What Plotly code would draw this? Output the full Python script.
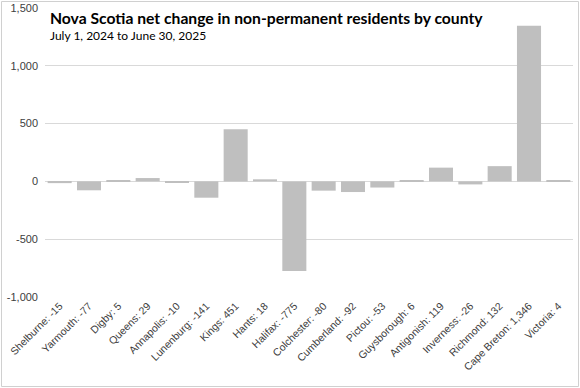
import plotly.graph_objects as go

counties = ["Shelburne", "Yarmouth", "Digby", "Queens", "Annapolis", "Lunenburg", "Kings",
            "Hants", "Halifax", "Colchester", "Cumberland", "Pictou", "Guysborough",
            "Antigonish", "Inverness", "Richmond", "Cape Breton", "Victoria"]
values = [-15, -77, 5, 29, -10, -141, 451, 18, -775, -80, -92, -53, 6, 119, -26, 132, 1346, 4]
tick_labels = [f"{c}: {v:,}" for c, v in zip(counties, values)]
y_ticks = [-1000, -500, 0, 500, 1000, 1500]
y_tick_text = ["-1,000", "-500", "0", "500", "1,000", "1,500"]

L, R, T, B = 45, 7, 8, 91
PW, PH = 580 - L - R, 388 - T - B

fig = go.Figure(go.Bar(x=tick_labels, y=values, marker_color="#bfbfbf",
                       marker_line_width=0))

fig.update_layout(
    width=580, height=388,
    margin=dict(l=L, r=R, t=T, b=B),
    paper_bgcolor="white", plot_bgcolor="white",
    bargap=0.18,
    showlegend=False,
    font=dict(family="Liberation Sans, Arial", size=11, color="#404040"),
    xaxis=dict(tickangle=-45, showgrid=False, zeroline=False, showline=False,
               automargin=False,
               tickfont=dict(family="Liberation Sans, Arial", size=10.5, color="#404040"),
               ticks=""),
    yaxis=dict(range=[-1000, 1500], tickvals=y_ticks, ticktext=y_tick_text,
               automargin=False,
               showgrid=True, gridcolor="#d9d9d9", gridwidth=1,
               zeroline=True, zerolinecolor="#d9d9d9", zerolinewidth=1,
               tickfont=dict(family="Liberation Sans, Arial", size=11, color="#404040"),
               ticks="", ticklabelstandoff=6),
    shapes=[dict(type="rect", xref="paper", yref="paper",
                 x0=(1.5 - L) / PW, x1=(578.5 - L) / PW,
                 y0=(T + PH - 386.5) / PH, y1=1 + (T - 1.5) / PH,
                 line=dict(color="#d0d0d0", width=1),
                 fillcolor="rgba(0,0,0,0)", layer="above")],
    annotations=[
        dict(text="<b>Nova Scotia net change in non-permanent residents by county</b>",
             xref="paper", yref="paper", x=3 / PW, y=1 - 10 / PH, xanchor="left", yanchor="middle",
             showarrow=False, font=dict(family="Lato, Noto Sans", size=15.7, color="#000000")),
        dict(text="July 1, 2024 to June 30, 2025",
             xref="paper", yref="paper", x=3 / PW, y=1 - 27 / PH, xanchor="left", yanchor="middle",
             showarrow=False, font=dict(family="Lato, Noto Sans", size=12, color="#000000")),
    ],
)

fig.write_html("out.html", config={"displayModeBar": False},
               post_script="document.body.style.margin='0';")
